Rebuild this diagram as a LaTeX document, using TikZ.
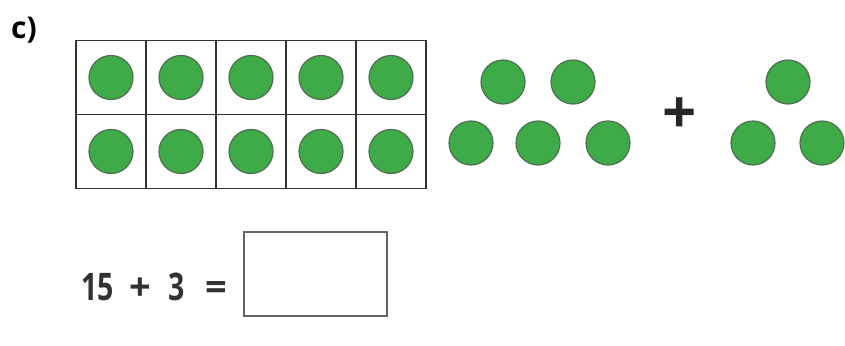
\documentclass[tikz,border=0pt]{standalone}
\usepackage{fontspec}
\setmainfont{Open Sans}
\newfontfamily\sumfont[FakeStretch=0.75]{Open Sans}
\usepackage{tikz}
\usetikzlibrary{positioning}
\usepackage{xcolor}
\definecolor{dotgreen}{RGB}{62,170,72}
\definecolor{dotedge}{RGB}{78,112,80}
\definecolor{inkgray}{RGB}{50,50,50}

\begin{document}
\begin{tikzpicture}[
    x=1pt, y=-1pt,
    every node/.style={text=inkgray},
    cell/.style={draw=inkgray, line width=1.8pt, minimum width=70pt, minimum height=74pt, inner sep=0pt},
    counter/.style={circle, fill=dotgreen, draw=dotedge, line width=1.2pt, minimum size=44pt, inner sep=0pt},
    answerbox/.style={draw=gray!80!black, line width=1.6pt, minimum width=143pt, minimum height=84pt, inner sep=0pt}
]
\useasboundingbox (0,0) rectangle (845,345);

\node[font=\fontsize{30}{34}\selectfont\bfseries, text=black] (label) at (24,30) {c)};

% ten frame, filled
\foreach \r/\y in {1/77.5, 2/151.5}
  \foreach \c in {1,...,5} {
    \node[cell] (cell-\r-\c) at ({76+70*\c-35},\y) {};
    \node[counter] (dot-\r-\c) at (cell-\r-\c) {};
  }

% five loose counters
\node[counter] (five-a) at (503,82) {};
\node[counter] (five-b) at (573,82) {};
\node[counter] (five-c) at (471,143) {};
\node[counter] (five-d) at (538,143) {};
\node[counter] (five-e) at (608,143) {};

\node[font=\fontsize{60}{60}\selectfont\bfseries, text=black!85] (plus) at (680,116) {+};

% three counters
\node[counter] (three-a) at (788,82) {};
\node[counter] (three-b) at (753,143) {};
\node[counter] (three-c) at (822,143) {};

\node[answerbox] (answer) at (315.5,274) {};
\node[font=\fontsize{38}{40}\selectfont\bfseries, inner sep=0pt, anchor=base west] (sum) at (81,300)
  {{\sumfont 15}\hspace{15.5pt}+\hspace{18pt}{\sumfont 3}\hspace{20pt}=};
\end{tikzpicture}
\end{document}
